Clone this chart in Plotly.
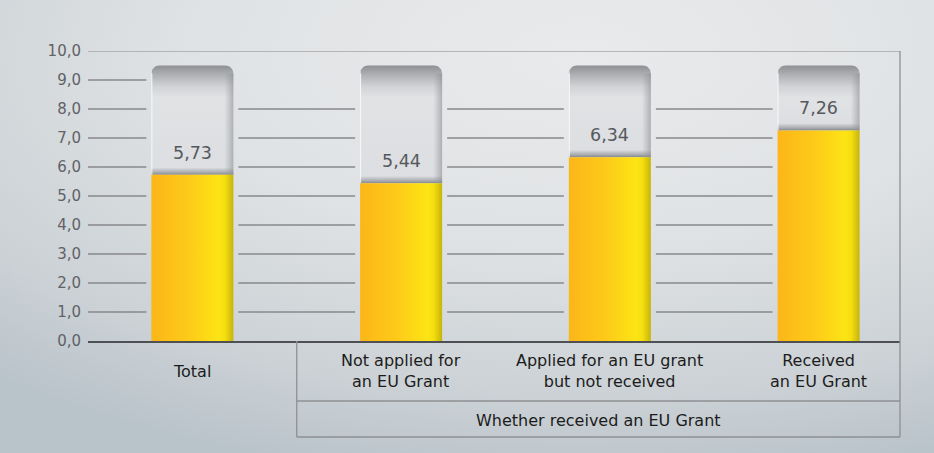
import base64
import math
import plotly.graph_objects as go

# ---------------- data ----------------
categories = ["Total", "Not applied for<br>an EU Grant",
              "Applied for an EU grant<br>but not received", "Received<br>an EU Grant"]
values = [5.73, 5.44, 6.34, 7.26]
value_labels = ["5,73", "5,44", "6,34", "7,26"]
group_label = "Whether received an EU Grant"
y_tick_vals = [0, 1, 2, 3, 4, 5, 6, 7, 8, 9, 10]
y_tick_text = ["0,0", "1,0", "2,0", "3,0", "4,0", "5,0", "6,0", "7,0", "8,0", "9,0", "10,0"]
capsule_top = 9.5

# ---------------- geometry / style ----------------
W, H = 934, 453
ML, MR, MT, MB = 88, 34, 51, 112
XMIN, XMAX = -0.5, 3.39
plot_w = W - ML - MR
plot_h = H - MT - MB
px_x = plot_w / (XMAX - XMIN)      # pixels per category unit
px_y = plot_h / 10.0               # pixels per value unit
HW = 41 / px_x                     # bar half width
GAP = 5 / px_x
RX, RY = 8 / px_x, 8 / px_y        # corner radius
FONT = "DejaVu Sans, sans-serif"

xs = list(range(len(categories)))

fig = go.Figure()

# gridlines (segments between bars only)
gx, gy = [], []
for t in y_tick_vals[1:-1]:
    segs = [(XMIN, xs[0] - HW - GAP)]
    if t < 9:
        for i in range(len(xs) - 1):
            segs.append((xs[i] + HW + GAP, xs[i + 1] - HW - GAP))
    for a, b in segs:
        gx += [a, b, None]
        gy += [t, t, None]
fig.add_trace(go.Scatter(x=gx, y=gy, mode="lines",
                         line=dict(color="#87898b", width=1.4),
                         hoverinfo="skip", showlegend=False))


def arc(cx, cy, a0, a1, n=8):
    pts = []
    for k in range(n + 1):
        a = a0 + (a1 - a0) * k / n
        pts.append((cx + RX * math.cos(a), cy + RY * math.sin(a)))
    return pts


for c, v in zip(xs, values):
    # grey capsule
    l, r = c - HW, c + HW
    pts = [(l, v), (l, capsule_top - RY)]
    pts += arc(l + RX, capsule_top - RY, math.pi, math.pi / 2)
    pts += arc(r - RX, capsule_top - RY, math.pi / 2, 0)
    pts += [(r, v), (l, v)]
    h = capsule_top - v
    s1 = min(0.25 / h, 0.3)
    s2 = max(1 - 1.1 / h, s1 + 0.05)
    fig.add_trace(go.Scatter(
        x=[p[0] for p in pts], y=[p[1] for p in pts], mode="lines", fill="toself",
        line=dict(width=0, color="rgba(0,0,0,0)"),
        fillgradient=dict(type="vertical", colorscale=[
            [0, "#85888d"], [s1 * 0.35, "#a9acb0"], [s1, "#dcdee1"],
            [s2, "#e0e2e4"], [s2 + (1 - s2) * 0.35, "#d0d2d5"],
            [s2 + (1 - s2) * 0.7, "#afb1b5"], [1, "#8e9094"]]),
        hoverinfo="skip", showlegend=False))
    # right-side shading of capsule
    sw = 9 / px_x
    fig.add_trace(go.Scatter(
        x=[r - sw, r, r, r - sw, r - sw], y=[v, v, capsule_top - RY, capsule_top - RY, v],
        mode="lines", fill="toself", line=dict(width=0, color="rgba(0,0,0,0)"),
        fillgradient=dict(type="horizontal", colorscale=[
            [0, "rgba(150,152,156,0)"], [1, "rgba(140,142,146,0.6)"]]),
        hoverinfo="skip", showlegend=False))
    # left highlight
    fig.add_trace(go.Scatter(x=[l + 0.5 / px_x, l + 0.5 / px_x], y=[v, capsule_top - RY],
                             mode="lines", line=dict(color="rgba(255,255,255,0.8)", width=1),
                             hoverinfo="skip", showlegend=False))
    # yellow bar
    fig.add_trace(go.Scatter(
        x=[l, r, r, l, l], y=[0, 0, v, v, 0], mode="lines", fill="toself",
        line=dict(width=0, color="rgba(0,0,0,0)"),
        fillgradient=dict(type="horizontal", colorscale=[
            [0, "#fcb618"], [0.45, "#fdca19"], [0.82, "#fde414"],
            [0.9, "#f4dd10"], [1, "#c6b409"]]),
        hoverinfo="skip", showlegend=False))

# value labels
for c, v, t in zip(xs, values, value_labels):
    fig.add_annotation(x=c, y=v, text=t, showarrow=False, yanchor="bottom", yshift=10,
                       font=dict(family=FONT, size=17.5, color="#55595e"))


# category labels
def py(pix):
    return (MT + plot_h - pix) / plot_h


for c, lab in zip(xs, categories):
    fig.add_annotation(x=c, y=py(371), xref="x", yref="paper", text=lab, showarrow=False,
                       yanchor="middle", font=dict(family=FONT, size=16, color="#1c1c1c"))
fig.add_annotation(x=(0.5 + XMAX) / 2, y=py(420), xref="x", yref="paper", text=group_label,
                   showarrow=False, yanchor="middle",
                   font=dict(family=FONT, size=16, color="#1c1c1c"))

line_c = "#8e9093"
shapes = [
    dict(type="line", xref="paper", yref="y", x0=0, x1=1, y0=10, y1=10,
         line=dict(color="#a3a5a7", width=1.5)),
    dict(type="line", xref="paper", yref="paper", x0=1, x1=1, y0=py(437), y1=1,
         line=dict(color=line_c, width=1.3)),
    dict(type="line", xref="x", yref="paper", x0=0.5, x1=0.5, y0=py(437), y1=0,
         line=dict(color=line_c, width=1.3)),
    dict(type="line", xref="x", yref="paper", x0=0.5, x1=XMAX, y0=py(401), y1=py(401),
         line=dict(color=line_c, width=1.3)),
    dict(type="line", xref="x", yref="paper", x0=0.5, x1=XMAX, y0=py(437), y1=py(437),
         line=dict(color=line_c, width=1.3)),
]

svg = f'''<svg xmlns="http://www.w3.org/2000/svg" width="{W}" height="{H}" viewBox="0 0 {W} {H}" preserveAspectRatio="none">
<defs><radialGradient id="g" cx="0.62" cy="0.12" r="0.95" gradientUnits="objectBoundingBox">
<stop offset="0" stop-color="#e9eaec"/><stop offset="0.45" stop-color="#dfe2e4"/>
<stop offset="0.8" stop-color="#cbd1d5"/><stop offset="1" stop-color="#b9c3ca"/></radialGradient></defs>
<rect width="{W}" height="{H}" fill="url(#g)"/></svg>'''
src = "data:image/svg+xml;base64," + base64.b64encode(svg.encode()).decode()

fig.update_layout(
    width=W, height=H,
    margin=dict(l=ML, r=MR, t=MT, b=MB),
    paper_bgcolor="#dde0e3", plot_bgcolor="rgba(0,0,0,0)",
    shapes=shapes,
    images=[dict(source=src, xref="paper", yref="paper",
                 x=-ML / plot_w, y=1 + MT / plot_h,
                 sizex=W / plot_w, sizey=H / plot_h,
                 xanchor="left", yanchor="top", sizing="stretch", layer="below")],
    xaxis=dict(range=[XMIN, XMAX], showgrid=False, zeroline=False, showticklabels=False,
               showline=True, linecolor="#4e5054", linewidth=2, fixedrange=True),
    yaxis=dict(range=[0, 10], tickvals=y_tick_vals, ticktext=y_tick_text, showgrid=False,
               zeroline=False, showline=False, ticks="", ticklabelstandoff=6,
               tickfont=dict(family=FONT, size=15, color="#5f6267"), fixedrange=True),
    showlegend=False,
)

fig.write_html("out.html", config={"displayModeBar": False},
               post_script="document.body.style.margin='0';document.body.style.overflow='hidden';")
